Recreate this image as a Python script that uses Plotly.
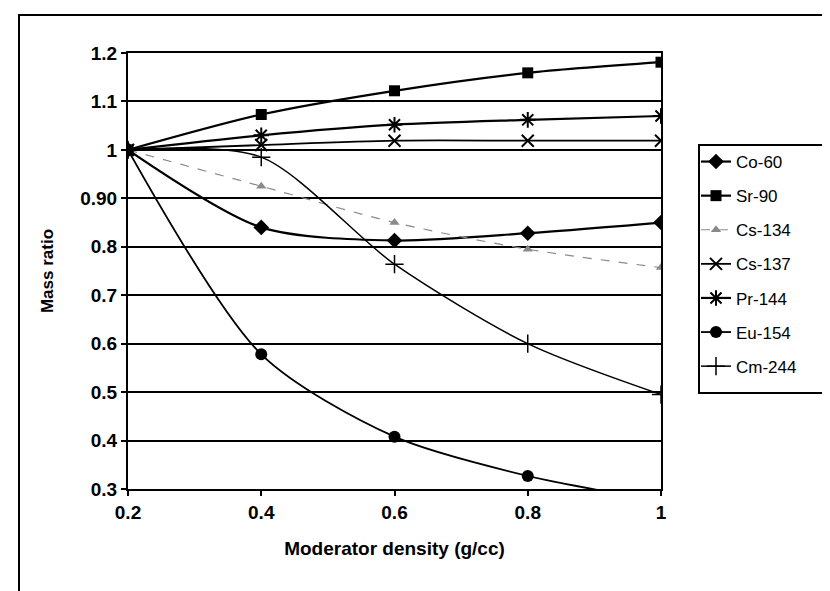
import plotly.graph_objects as go

density = [0.2, 0.4, 0.6, 0.8, 1.0]
co60 = [1.0, 0.840, 0.813, 0.828, 0.850]
sr90 = [1.0, 1.073, 1.122, 1.159, 1.181]
cs134 = [1.0, 0.925, 0.850, 0.795, 0.757]
cs137 = [1.0, 1.010, 1.019, 1.019, 1.019]
pr144 = [1.0, 1.030, 1.052, 1.062, 1.070]
eu154 = [1.0, 0.578, 0.408, 0.327, 0.275]
cm244 = [1.0, 0.985, 0.764, 0.600, 0.495]

y_ticks = [0.3, 0.4, 0.5, 0.6, 0.7, 0.8, 0.9, 1.0, 1.1, 1.2]
y_labels = ["0.3", "0.4", "0.5", "0.6", "0.7", "0.8", "0.90", "1", "1.1", "1.2"]
x_ticks = [0.2, 0.4, 0.6, 0.8, 1.0]
x_labels = ["0.2", "0.4", "0.6", "0.8", "1"]

FONT = "Liberation Sans, Arial, sans-serif"

series = [
    ("Co-60", co60, dict(symbol="diamond", size=12, color="black"), dict(color="black", width=2.2)),
    ("Sr-90", sr90, dict(symbol="square", size=11, color="black"), dict(color="black", width=2.2)),
    ("Cs-134", cs134, dict(symbol="triangle-up", size=9, color="#8a8a8a"), dict(color="#8a8a8a", width=1.2, dash="dash")),
    ("Cs-137", cs137, dict(symbol="x-thin", size=12, color="black", line=dict(width=2, color="black")), dict(color="black", width=1.8)),
    ("Pr-144", pr144, dict(symbol="asterisk", size=13, color="black", line=dict(width=2, color="black")), dict(color="black", width=2.2)),
    ("Eu-154", eu154, dict(symbol="circle", size=12, color="black"), dict(color="black", width=1.8)),
    ("Cm-244", cm244, dict(symbol="cross-thin", size=13, color="black", line=dict(width=1.5, color="black")), dict(color="black", width=1.5)),
]

fig = go.Figure()
for i, (name, vals, mk, ln) in enumerate(series):
    fig.add_trace(go.Scatter(
        x=density, y=vals, name=name, mode="lines+markers",
        line=dict(shape="spline", smoothing=0.8, **ln), marker=mk,
        legendgroup=f"g{i}",
    ))

L, R, T, B = 120, 177, 45, 110
W, H = 830, 591
pw, ph = W - L - R, H - T - B

def px_x(p):
    return (p - L) / pw

def px_y(p):
    return (H - B - p) / ph

fig.update_layout(
    width=W, height=H,
    margin=dict(l=L, r=R, t=T, b=B),
    paper_bgcolor="white", plot_bgcolor="white",
    font=dict(family=FONT, color="black"),
    showlegend=True,
    legend=dict(
        x=px_x(688), y=px_y(136), xanchor="left", yanchor="top",
        bgcolor="rgba(0,0,0,0)", borderwidth=0,
        font=dict(family=FONT, size=17, color="black"),
        tracegroupgap=9, itemwidth=30,
    ),
    xaxis=dict(
        range=[0.2, 1.0], tickvals=x_ticks, ticktext=x_labels,
        showgrid=False, zeroline=False,
        showline=True, linecolor="black", linewidth=2, mirror=True,
        ticks="outside", ticklen=5, tickwidth=1.5, tickcolor="black",
        tickfont=dict(family=FONT, size=19, weight="bold"),
        title=dict(text="Moderator density (g/cc)", font=dict(family=FONT, size=19, weight="bold"), standoff=20),
    ),
    yaxis=dict(
        range=[0.3, 1.2], tickvals=y_ticks, ticktext=y_labels,
        showgrid=True, gridcolor="black", gridwidth=1.8, zeroline=False,
        showline=True, linecolor="black", linewidth=2, mirror=True,
        ticks="outside", ticklen=5, tickwidth=1.5, tickcolor="black",
        tickfont=dict(family=FONT, size=19, weight="bold"),
        title=dict(text="Mass ratio", font=dict(family=FONT, size=17, weight="bold"), standoff=22),
    ),
    shapes=[
        dict(type="rect", xref="paper", yref="paper",
             x0=px_x(11), x1=px_x(900), y0=px_y(700), y1=px_y(7),
             line=dict(color="black", width=2), fillcolor="rgba(0,0,0,0)", layer="below"),
        dict(type="rect", xref="paper", yref="paper",
             x0=px_x(691), x1=px_x(826), y0=px_y(385), y1=px_y(137),
             line=dict(color="black", width=2), fillcolor="rgba(0,0,0,0)"),
    ],
)

fig.write_html("out.html")
